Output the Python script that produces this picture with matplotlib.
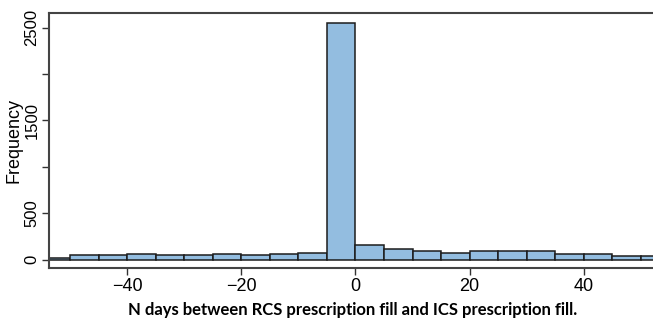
import matplotlib
matplotlib.use("Agg")
import matplotlib.pyplot as plt
import numpy as np

# histogram bins (5-day wide) and counts
bin_left = [-55, -50, -45, -40, -35, -30, -25, -20, -15, -10, -5,
            0, 5, 10, 15, 20, 25, 30, 35, 40, 45, 50]
counts = [22, 54, 46, 65, 46, 46, 65, 46, 60, 75, 2550,
          155, 118, 89, 75, 89, 89, 89, 65, 60, 43, 40]
bin_width = 5

x_ticks = [-40, -20, 0, 20, 40]
y_ticks = [0, 500, 1000, 1500, 2000, 2500]
y_labels = ["0", "500", "", "1500", "", "2500"]

fig = plt.figure(figsize=(6.53, 3.22), dpi=100)
ax = fig.add_axes([0.075, 0.168, 0.93, 0.792])

ax.bar(bin_left, counts, width=bin_width, align="edge",
       color="#93bde0", edgecolor="#1c1c1c", linewidth=1.1)

ax.set_xlim(-53.7, 52.7)
ax.set_ylim(-90, 2660)

ax.set_xticks(x_ticks)
ax.set_xticklabels(["\u221240", "\u221220", "0", "20", "40"],
                   fontsize=13, family="Liberation Sans")
ax.set_yticks(y_ticks)
ax.set_yticklabels(y_labels, rotation=90, va="center",
                   fontsize=12, family="Liberation Sans")
ax.tick_params(axis="both", direction="out", length=5, width=1,
               color="#333333", pad=2)

for side in ["left", "top", "bottom"]:
    ax.spines[side].set_linewidth(1.5)
    ax.spines[side].set_color("#444444")
ax.spines["right"].set_visible(False)

ax.set_ylabel("Frequency", fontsize=13, family="Liberation Sans", labelpad=1)
ax.set_xlabel("N days between RCS prescription fill and ICS prescription fill.",
              fontsize=12, family="Lato", fontweight="bold", labelpad=5)

fig.savefig("out.png", dpi=100)
